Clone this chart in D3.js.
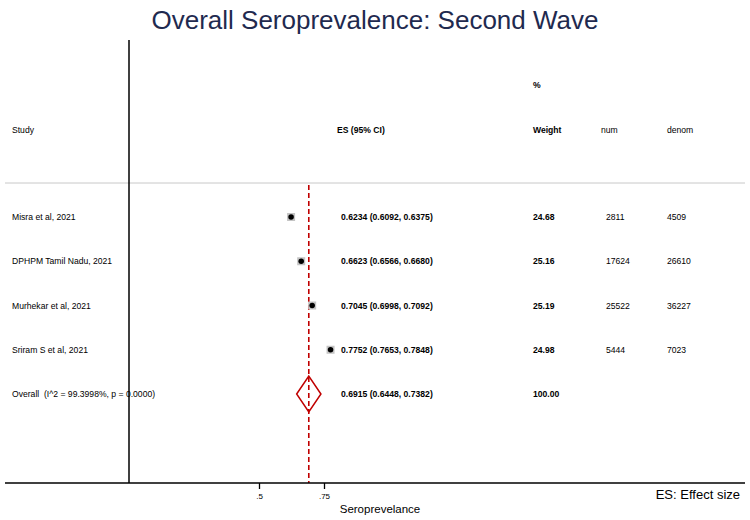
<!DOCTYPE html>
<html>
<head>
<meta charset="utf-8">
<script src="https://cdn.jsdelivr.net/npm/d3@7"></script>
<style>
  body { margin: 0; background: #fff; }
  text { font-family: 'Liberation Sans', Arial, sans-serif; white-space: pre; }
</style>
</head>
<body>
<div class="chart"></div>
<script>
const svgWidth = 750;
const svgHeight = 520;

// study rows
const studies = ['Misra et al, 2021', 'DPHPM Tamil Nadu, 2021', 'Murhekar et al, 2021', 'Sriram S et al, 2021'];
const es = [0.6234, 0.6623, 0.7045, 0.7752];
const lower = [0.6092, 0.6566, 0.6998, 0.7653];
const upper = [0.6375, 0.6680, 0.7092, 0.7848];
const weights = ['24.68', '25.16', '25.19', '24.98'];
const nums = ['2811', '17624', '25522', '5444'];
const denoms = ['4509', '26610', '36227', '7023'];

// pooled estimate
const overallLabel = 'Overall  (I^2 = 99.3998%, p = 0.0000)';
const overallES = 0.6915;
const overallCI = [0.6448, 0.7382];
const overallWeight = '100.00';

const tickValues = [0.5, 0.75];
const fmt = d3.format('.4f');

const svg = d3.select('.chart')
  .append('svg')
  .attr('width', svgWidth)
  .attr('height', svgHeight);

// x scale: null line at 0
const x = d3.scaleLinear()
  .domain([0, 0.75])
  .range([129, 324]);

const rowLabels = studies.concat([overallLabel]);
const y = d3.scalePoint()
  .domain(rowLabels)
  .range([217, 394]);

const axisY = 483;
const fs = '8.6px';

// title
svg.append('text')
  .attr('x', svgWidth / 2)
  .attr('y', 29)
  .attr('text-anchor', 'middle')
  .attr('fill', '#1f2a4f')
  .style('font-size', '26px')
  .text('Overall Seroprevalence: Second Wave');

// header
const head = svg.append('g').style('font-size', fs);
head.append('text').attr('x', 12).attr('y', 133).text('Study');
head.append('text').attr('x', 337).attr('y', 133).style('font-weight', 'bold').text('ES (95% CI)');
head.append('text').attr('x', 533).attr('y', 88).style('font-weight', 'bold').text('%');
head.append('text').attr('x', 533).attr('y', 133).style('font-weight', 'bold').text('Weight');
head.append('text').attr('x', 601).attr('y', 133).text('num');
head.append('text').attr('x', 667).attr('y', 133).text('denom');

// separator under header
svg.append('line')
  .attr('x1', 5).attr('x2', 745)
  .attr('y1', 183).attr('y2', 183)
  .attr('stroke', '#c8c8c8')
  .attr('stroke-width', 1);

// null line
svg.append('line')
  .attr('x1', x(0)).attr('x2', x(0))
  .attr('y1', 40).attr('y2', axisY)
  .attr('stroke', '#000')
  .attr('stroke-width', 1.5);

// overall dashed line
svg.append('line')
  .attr('x1', x(overallES)).attr('x2', x(overallES))
  .attr('y1', 185).attr('y2', axisY)
  .attr('stroke', '#c00000')
  .attr('stroke-width', 1.6)
  .attr('stroke-dasharray', '5,3');

// axis
const axisG = svg.append('g')
  .attr('transform', `translate(0, ${axisY})`)
  .call(d3.axisBottom(x).tickValues(tickValues).tickSize(6)
    .tickFormat(d => d3.format('.2~f')(d).replace(/^0/, '')));
axisG.select('.domain').remove();
axisG.selectAll('.tick line').attr('stroke-width', 1.3);
axisG.selectAll('.tick text').style('font-size', '8px').attr('dy', '0.9em');
axisG.append('line')
  .attr('x1', 5).attr('x2', 745)
  .attr('stroke', '#000')
  .attr('stroke-width', 1.3);

svg.append('text')
  .attr('x', 380)
  .attr('y', 513)
  .attr('text-anchor', 'middle')
  .style('font-size', '11.5px')
  .text('Seroprevelance');

svg.append('text')
  .attr('x', 740)
  .attr('y', 499)
  .attr('text-anchor', 'end')
  .style('font-size', '13px')
  .text('ES: Effect size');

// study rows
const rows = svg.append('g').style('font-size', fs);
studies.forEach((s, i) => {
  const yy = y(s);
  rows.append('text').attr('x', 12).attr('y', yy + 3).text(s);
  // CI line
  svg.append('line')
    .attr('x1', x(lower[i])).attr('x2', x(upper[i]))
    .attr('y1', yy).attr('y2', yy)
    .attr('stroke', '#000');
  // weight box
  svg.append('rect')
    .attr('x', x(es[i]) - 4).attr('y', yy - 4)
    .attr('width', 8).attr('height', 8)
    .attr('fill', '#c4c4c4');
  // point
  svg.append('path')
    .attr('transform', `translate(${x(es[i])}, ${yy})`)
    .attr('d', d3.symbol(d3.symbolCircle, 24)())
    .attr('fill', '#000');
  rows.append('text').attr('x', 341).attr('y', yy + 3).style('font-weight', 'bold')
    .text(`${fmt(es[i])} (${fmt(lower[i])}, ${fmt(upper[i])})`);
  rows.append('text').attr('x', 533).attr('y', yy + 3).style('font-weight', 'bold').text(weights[i]);
  rows.append('text').attr('x', 606).attr('y', yy + 3).text(nums[i]);
  rows.append('text').attr('x', 667).attr('y', yy + 3).text(denoms[i]);
});

// overall row
const yo = y(overallLabel);
rows.append('text').attr('x', 12).attr('y', yo + 3).text(overallLabel);
svg.append('path')
  .attr('d', `M${x(overallCI[0])},${yo} L${x(overallES)},${yo - 18} L${x(overallCI[1])},${yo} L${x(overallES)},${yo + 18} Z`)
  .attr('fill', 'none')
  .attr('stroke', '#c00000')
  .attr('stroke-width', 1.5);
rows.append('text').attr('x', 341).attr('y', yo + 3).style('font-weight', 'bold')
  .text(`${fmt(overallES)} (${fmt(overallCI[0])}, ${fmt(overallCI[1])})`);
rows.append('text').attr('x', 533).attr('y', yo + 3).style('font-weight', 'bold').text(overallWeight);
</script>
</body>
</html>
